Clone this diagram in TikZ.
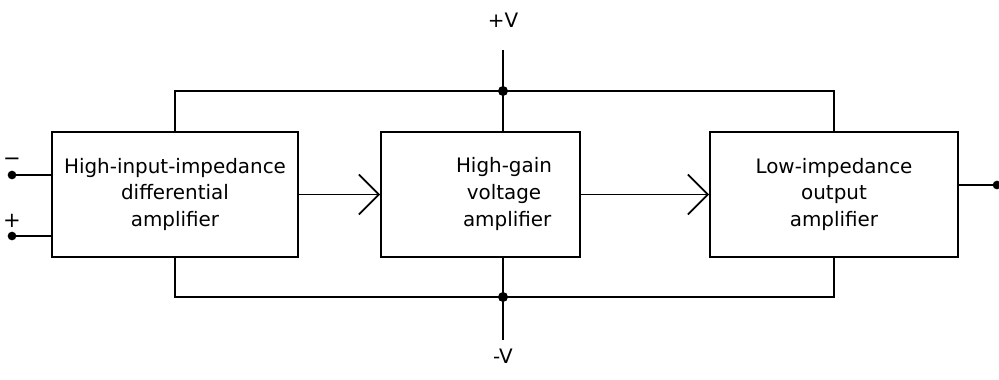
\documentclass[tikz,border=0pt]{standalone}
\usepackage{fontspec}
\setmainfont{DejaVu Sans}
\usetikzlibrary{arrows.meta}

\tikzset{
  blk/.style={draw, line width=1.5pt, inner sep=0pt, minimum height=37.5mm,
    font=\fontsize{17}{23}\selectfont, align=center},
  lbl/.style={font=\fontsize{17}{23}\selectfont, align=center},
  pm/.style={font=\fontsize{18}{18}\selectfont, inner sep=0pt},
  wire/.style={line width=1.5pt},
  flow/.style={wire, -{Straight Barb[length=6mm, width=12mm]}},
}

\begin{document}
\begin{tikzpicture}[x=0.3mm, y=-0.3mm]
    \useasboundingbox (0,0) rectangle (999,379);

    % 三个放大级
    \node[blk, minimum width=73.8mm] (diff) at (175,194.5)
        {High-input-impedance\\differential\\amplifier};
    \node[blk, minimum width=59.7mm] (gain) at (480.5,194.5) {};
    \node[lbl] (gaintxt) at (504,194) {High-gain\\voltage\\\ amplifier};
    \node[blk, minimum width=74.4mm] (outamp) at (834,194.5)
        {Low-impedance\\output\\amplifier};

    % 电源端点
    \coordinate (vp) at (503,50);
    \coordinate (vn) at (503,340);
    \coordinate (jt) at (503,91);
    \coordinate (jb) at (503,297);
    \node[lbl] (pv) at (503,20) {+V};
    \node[lbl] (nv) at (503,356) {-V};

    % 输入与输出端点
    \coordinate (inm) at (12,175);
    \coordinate (inp) at (12,236);
    \coordinate (out) at (997,185);
    \node[pm] (minus) at (12,162) {−};
    \node[pm] (plus) at (12,221) {+};

    % 电源线
    \draw[wire] (diff.north) |- (jt) -| (outamp.north);
    \draw[wire] (vp) -- (jt) -- (jt |- gain.north);
    \draw[wire] (diff.south) |- (jb) -| (outamp.south);
    \draw[wire] (jb |- gain.south) -- (jb) -- (vn);

    % 信号线
    \draw[wire] (inm) -- (inm -| diff.west);
    \draw[wire] (inp) -- (inp -| diff.west);
    \draw[flow] (diff) -- (gain);
    \draw[flow] (gain) -- (outamp);
    \draw[wire] (out -| outamp.east) -- (out);

    % 节点圆点
    \fill (jt) circle (1.5mm);
    \fill (jb) circle (1.5mm);
    \fill (inm) circle (1.3mm);
    \fill (inp) circle (1.3mm);
    \fill (out) circle (1.3mm);

\end{tikzpicture}
\end{document}
